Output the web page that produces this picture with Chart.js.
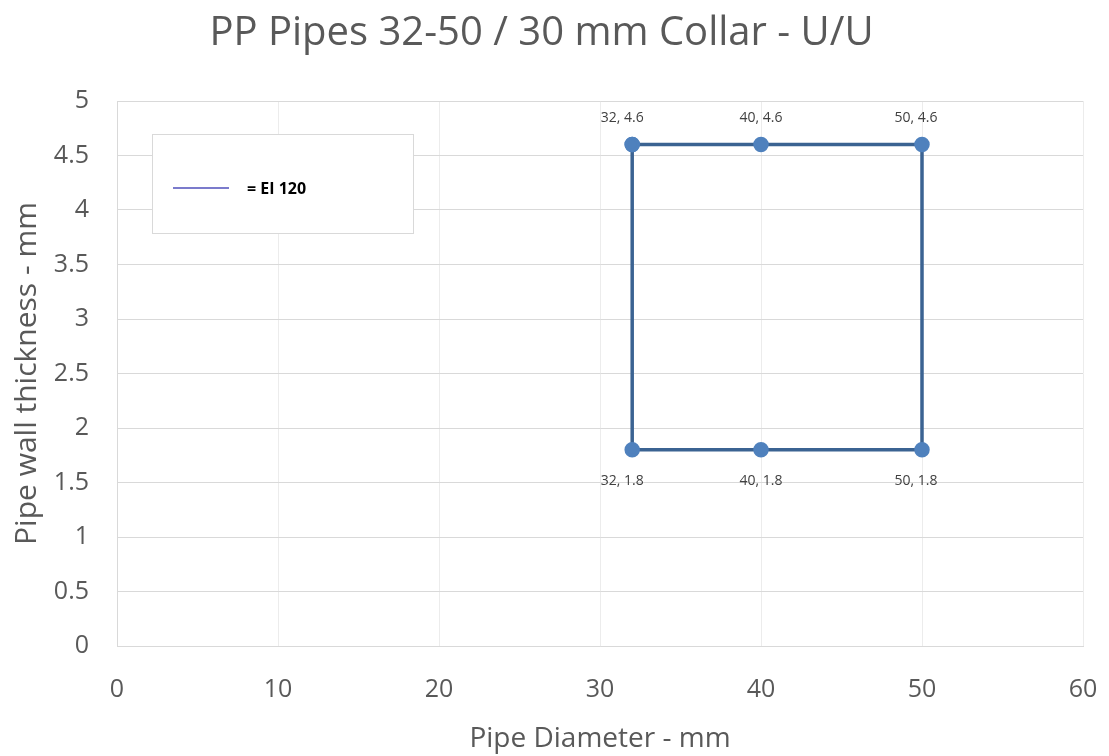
<!DOCTYPE html>
<html>
<head>
<meta charset="utf-8">
<script src="https://cdn.jsdelivr.net/npm/chart.js@4/dist/chart.umd.min.js"></script>
<style>
  html, body { margin: 0; padding: 0; background: #fff; }
  #wrap { width: 1109px; height: 756px; }
</style>
</head>
<body>
<div id="wrap"><canvas id="myChart" width="1109" height="756"></canvas></div>
<script>
// values
const pipeDiameter = [32, 40, 50, 50, 40, 32, 32];
const wallThickness = [4.6, 4.6, 4.6, 1.8, 1.8, 1.8, 4.6];
const labelPos = ['top', 'top', 'top', 'bottom', 'bottom', 'bottom', 'none'];
const xTicks = [0, 10, 20, 30, 40, 50, 60];
const yTicks = [0, 0.5, 1, 1.5, 2, 2.5, 3, 3.5, 4, 4.5, 5];
const seriesName = '= EI 120';

const fontName = '"Open Sans", sans-serif';
const textGray = '#595959';

const points = pipeDiameter.map((x, i) => ({ x: x, y: wallThickness[i] }));

// "32, 4.6" style labels next to each point
const pointLabels = {
    id: 'pointLabels',
    afterDatasetsDraw(chart) {
        const ctx = chart.ctx;
        const meta = chart.getDatasetMeta(0);
        ctx.save();
        ctx.font = '14px ' + fontName;
        ctx.fillStyle = '#404040';
        ctx.textAlign = 'center';
        ctx.textBaseline = 'middle';
        meta.data.forEach((el, i) => {
            if (labelPos[i] == 'none') return;
            const txt = pipeDiameter[i] + ', ' + wallThickness[i];
            const dy = labelPos[i] == 'top' ? -27 : 31;
            ctx.fillText(txt, el.x - (i == 0 || i == 5 ? 10 : 0) - (i == 2 || i == 3 ? 6 : 0), el.y + dy);
        });
        ctx.restore();
    }
};

// floating legend box inside the plot
const boxLegend = {
    id: 'boxLegend',
    afterDraw(chart) {
        const ctx = chart.ctx;
        const ds = chart.data.datasets[0];
        ctx.save();
        ctx.fillStyle = '#ffffff';
        ctx.fillRect(152, 134, 261, 99);
        ctx.strokeStyle = '#d9d9d9';
        ctx.lineWidth = 1;
        ctx.strokeRect(152.5, 134.5, 261, 99);
        ctx.strokeStyle = '#7b7bcc';
        ctx.lineWidth = 2;
        ctx.beginPath();
        ctx.moveTo(173, 188);
        ctx.lineTo(229, 188);
        ctx.stroke();
        ctx.font = 'bold 16px ' + fontName;
        ctx.fillStyle = '#000000';
        ctx.textBaseline = 'middle';
        ctx.fillText(ds.label, 247, 189);
        ctx.restore();
    }
};

new Chart(document.getElementById('myChart'), {
    type: 'scatter',
    data: {
        datasets: [{
            label: seriesName,
            data: points,
            showLine: true,
            borderColor: '#3b6392',
            borderWidth: 3.5,
            pointRadius: 6,
            pointBackgroundColor: '#4f81bd',
            pointBorderColor: '#4f81bd',
            tension: 0
        }]
    },
    options: {
        responsive: false,
        animation: false,
        layout: { padding: { left: 0, top: 0, right: 26, bottom: 0 } },
        plugins: {
            legend: { display: false },
            tooltip: { enabled: false },
            title: {
                display: true,
                text: 'PP Pipes 32-50 / 30 mm Collar - U/U',
                color: textGray,
                font: { family: fontName, size: 40, weight: 'normal' },
                padding: { top: 10, bottom: 43 }
            }
        },
        scales: {
            x: {
                type: 'linear',
                min: 0,
                max: 60,
                afterBuildTicks: s => { s.ticks = xTicks.map(v => ({ value: v })); },
                afterFit: s => { s.height = 110; s.paddingLeft = 0; s.paddingRight = 0; },
                grid: { color: '#ececec', drawTicks: false },
                border: { color: '#d9d9d9' },
                ticks: {
                    color: textGray,
                    padding: 29,
                    font: { family: fontName, size: 25 }
                },
                title: {
                    display: true,
                    text: 'Pipe Diameter - mm',
                    color: textGray,
                    font: { family: fontName, size: 28 },
                    padding: { top: 4, bottom: 0 }
                }
            },
            y: {
                type: 'linear',
                min: 0,
                max: 5,
                afterBuildTicks: s => { s.ticks = yTicks.map(v => ({ value: v })); },
                afterFit: s => { s.width = 117; },
                grid: { color: '#d9d9d9', drawTicks: false },
                border: { color: '#d9d9d9' },
                ticks: {
                    color: textGray,
                    padding: 28,
                    font: { family: fontName, size: 25 },
                    callback: v => String(v)
                },
                title: {
                    display: true,
                    text: 'Pipe wall thickness - mm',
                    color: textGray,
                    font: { family: fontName, size: 30 },
                    padding: { top: 9, bottom: 4 }
                }
            }
        }
    },
    plugins: [pointLabels, boxLegend]
});
</script>
</body>
</html>
